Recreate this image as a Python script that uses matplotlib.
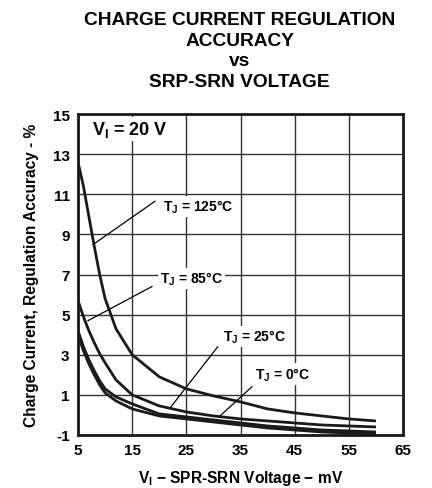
import matplotlib
matplotlib.use('agg')
import matplotlib.pyplot as plt

plt.rcParams['font.family'] = ['Liberation Sans', 'DejaVu Sans']
plt.rcParams['font.weight'] = 'bold'
plt.rcParams['axes.labelweight'] = 'bold'
plt.rcParams['axes.unicode_minus'] = False
plt.rcParams['mathtext.fontset'] = 'custom'
plt.rcParams['mathtext.rm'] = 'Liberation Sans:bold'
plt.rcParams['mathtext.bf'] = 'Liberation Sans:bold'
plt.rcParams['mathtext.it'] = 'Liberation Sans:bold'
plt.rcParams['mathtext.default'] = 'bf'

# SRP-SRN voltage, mV
vsense = [5, 6, 7, 8, 9, 10, 12, 15, 20, 25, 30, 35, 40, 45, 50, 55, 60]
# regulation accuracy, %
acc_125 = [12.6, 11.4, 9.9, 8.4, 7.0, 5.8, 4.3, 3.0, 1.9, 1.3, 0.95, 0.65, 0.3, 0.1, -0.05, -0.2, -0.3]
acc_85 = [5.7, 4.9, 4.2, 3.6, 3.05, 2.6, 1.75, 1.0, 0.45, 0.15, -0.05, -0.2, -0.3, -0.4, -0.5, -0.55, -0.6]
acc_25 = [4.2, 3.4, 2.75, 2.2, 1.7, 1.3, 0.9, 0.55, 0.05, -0.1, -0.25, -0.4, -0.55, -0.65, -0.75, -0.8, -0.85]
acc_0 = [4.0, 3.2, 2.55, 2.0, 1.5, 1.1, 0.7, 0.3, -0.05, -0.2, -0.35, -0.5, -0.65, -0.75, -0.85, -0.9, -0.95]

xticks = [5, 15, 25, 35, 45, 55, 65]
yticks = [-1, 1, 3, 5, 7, 9, 11, 13, 15]

fig = plt.figure(figsize=(4.32, 4.89), dpi=100)
ax = fig.add_axes([0.1806, 0.1084, 0.7523, 0.6564])

for acc in (acc_125, acc_85, acc_25, acc_0):
    ax.plot(vsense, acc, color='#1a1a1a', lw=2.0, solid_capstyle='butt', zorder=3)

ax.set_xlim(5, 65)
ax.set_ylim(-1, 15)
ax.set_xticks(xticks)
ax.set_yticks(yticks)
ax.grid(True, color='#333333', lw=1.0)
ax.tick_params(length=0, labelsize=11, pad=6)
for s in ax.spines.values():
    s.set_linewidth(2.0)
    s.set_color('#1a1a1a')

# curve labels with leader lines
bb = dict(facecolor='white', edgecolor='none', pad=1.5)
labels = [
    (r'T$_J$ = 125°C', 20.7, 10.4, (19.2, 10.65), (7.8, 8.5)),
    (r'T$_J$ = 85°C', 20.1, 6.8, (18.65, 6.4), (6.85, 4.7)),
    (r'T$_J$ = 25°C', 31.8, 3.9, (30.8, 3.4), (22.0, 0.35)),
    (r'T$_J$ = 0°C', 37.7, 2.05, (37.1, 1.4), (31.2, -0.05)),
]
for txt, tx, ty, p0, p1 in labels:
    ax.text(tx, ty, txt, fontsize=10, ha='left', va='center', bbox=bb, zorder=4)
    ax.plot([p0[0], p1[0]], [p0[1], p1[1]], color='black', lw=0.9, zorder=4)

ax.text(7.6, 14.25, r'V$_I$ = 20 V', fontsize=13, ha='left', va='center', bbox=bb, zorder=4)

ax.set_xlabel(r'V$_I$ − SPR-SRN Voltage − mV', fontsize=11.2, labelpad=8)
ax.set_ylabel('Charge Current, Regulation Accuracy - %', fontsize=11.2, labelpad=10)

fig.text(0.555, 0.975, 'CHARGE CURRENT REGULATION\nACCURACY\nvs\nSRP-SRN VOLTAGE',
         ha='center', va='top', fontsize=13.8, linespacing=1.27)

fig.savefig('out.png', dpi=100)
